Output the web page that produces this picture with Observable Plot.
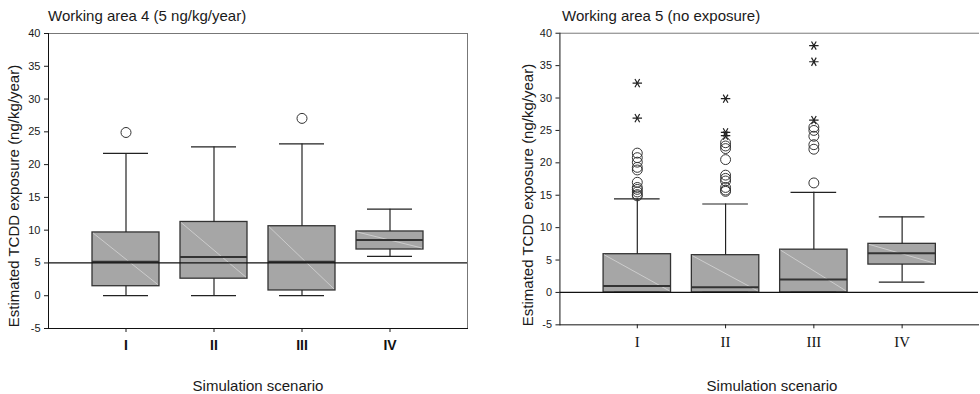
<!DOCTYPE html>
<html><head><meta charset="utf-8">
<script src="https://cdn.jsdelivr.net/npm/d3@7"></script>
<script src="https://cdn.jsdelivr.net/npm/@observablehq/plot@0.6"></script>
<style>
html,body{margin:0;padding:0;background:#fff;overflow:hidden;}
#wrap{position:relative;width:980px;height:394px;overflow:hidden;font-family:"Liberation Sans",Arial,sans-serif;color:#1a1a1a;}
.p{position:absolute;top:0;}
.t{position:absolute;white-space:nowrap;font-size:15px;line-height:1;}
</style></head><body><div id="wrap"></div>
<script>
// ---------- data ----------
const scenarios = ["I", "II", "III", "IV"];
const yTicks = [-5, 0, 5, 10, 15, 20, 25, 30, 35, 40];

// Working area 4 (5 ng/kg/year)
const a4WhiskerLow  = [0, 0, 0, 6.0];
const a4Q1          = [1.45, 2.6, 0.8, 7.05];
const a4Median      = [5.2, 5.9, 5.2, 8.5];
const a4Q3          = [9.65, 11.25, 10.6, 9.8];
const a4WhiskerHigh = [21.7, 22.7, 23.15, 13.2];
const a4OutI   = [24.9];
const a4OutII  = [];
const a4OutIII = [27.05];
const a4OutIV  = [];

// Working area 5 (no exposure)
const a5WhiskerLow  = [0, 0, 0, 1.6];
const a5Q1          = [0, 0, 0, 4.3];
const a5Median      = [1.0, 0.8, 2.0, 6.05];
const a5Q3          = [5.9, 5.75, 6.6, 7.5];
const a5WhiskerHigh = [14.45, 13.65, 15.45, 11.65];
const a5OutI   = [21.5, 20.8, 20.1, 19.3, 18.9, 17.0, 16.2, 15.9, 15.5, 15.1, 14.9];
const a5OutII  = [23.1, 22.6, 22.2, 20.5, 18.1, 17.6, 17.2, 16.2, 15.8, 15.6];
const a5OutIII = [25.5, 25.0, 24.1, 22.8, 22.1, 16.9];
const a5OutIV  = [];
const a5ExtI   = [32.3, 26.9];
const a5ExtII  = [29.9, 24.7, 24.2];
const a5ExtIII = [38.1, 35.6, 26.6];
const a5ExtIV  = [];

// ---------- helpers ----------
function flat(lists) {
  const out = [];
  lists.forEach((l, i) => l.forEach(v => out.push({s: scenarios[i], v})));
  return out;
}
function diagonals(q1, q3) {
  return (index, scales) => {
    const x = scales.x, y = scales.y;
    const bw = typeof x.bandwidth === "function" ? x.bandwidth() : 68;
    const g = d3.create("svg:g");
    scenarios.forEach((s, i) => {
      if (q3[i] - q1[i] <= 0) return;
      const x0 = x(s);
      g.append("line")
        .attr("x1", x0 + 1).attr("y1", y(q3[i]) + 1)
        .attr("x2", x0 + bw - 1).attr("y2", y(q1[i]) - 1)
        .attr("stroke", "#d6d6d6").attr("stroke-width", 0.8);
    });
    return g.node();
  };
}

function boxChart(o) {
  const marks = [
    Plot.barY(scenarios, {x: d => d, y1: (d, i) => o.q1[i], y2: (d, i) => o.q3[i],
      fill: "#a6a6a6", stroke: "#333", strokeWidth: 1.3}),
    diagonals(o.q1, o.q3),
    Plot.tickY(scenarios, {x: d => d, y: (d, i) => o.med[i], stroke: "#333", strokeWidth: 2}),
    Plot.ruleX(scenarios, {x: d => d, y1: (d, i) => o.q3[i], y2: (d, i) => o.hi[i], stroke: "#222", strokeWidth: 1.2}),
    Plot.ruleX(scenarios, {x: d => d, y1: (d, i) => o.lo[i], y2: (d, i) => o.q1[i], stroke: "#222", strokeWidth: 1.2}),
    Plot.tickY(scenarios, {x: d => d, y: (d, i) => o.hi[i], insetLeft: 11, insetRight: 11, stroke: "#222", strokeWidth: 1.2}),
    Plot.tickY(scenarios, {x: d => d, y: (d, i) => o.lo[i], insetLeft: 11, insetRight: 11, stroke: "#222", strokeWidth: 1.2}),
    Plot.dot(o.out, {x: "s", y: "v", r: 5, stroke: "#333", fill: "none", strokeWidth: 1}),
    Plot.dot(o.ext, {x: "s", y: "v", r: 4.5, symbol: "asterisk", rotate: 90, stroke: "#222", strokeWidth: 1.2}),
    Plot.ruleY([o.ref], {stroke: "#111", strokeWidth: 1.2}),
    Plot.frame({anchor: "top", stroke: "#777"}),
    o.rightBorder ? Plot.frame({anchor: "right", stroke: "#777"}) : null,
    Plot.frame({anchor: "left", stroke: "#111"}),
    Plot.frame({anchor: "bottom", stroke: "#111"}),
    Plot.axisY({ticks: yTicks, tickSize: 4, tickPadding: 4, tickFormat: d => String(d), fontSize: 11, label: null}),
    Plot.axisX({tickSize: 4, tickPadding: 8, label: null, fontSize: o.xFontSize})
  ];
  const svg = Plot.plot({
    width: o.width, height: 394,
    marginLeft: o.ml, marginRight: o.mr, marginTop: 33, marginBottom: o.mb,
    x: {domain: scenarios, paddingInner: 0.236, paddingOuter: 0.472},
    y: {domain: [-5, 40]},
    style: {background: "transparent", color: "#1a1a1a", fontFamily: '"Liberation Sans", Arial, sans-serif', overflow: "visible"},
    marks
  });
  svg.querySelectorAll("text").forEach(el => {
    if (scenarios.includes(el.textContent.trim())) {
      el.setAttribute("font-family", o.xFont);
      el.style.fontFamily = o.xFont;
      el.style.fontSize = o.xFontSize + "px";
      el.style.fontWeight = o.xWeight;
      el.style.fill = "#111";
    }
  });
  return svg;
}

const wrap = document.getElementById("wrap");
function place(node, left) {
  const d = document.createElement("div");
  d.className = "p"; d.style.left = left + "px";
  d.appendChild(node); wrap.appendChild(d);
}
function text(str, x, y, opts = {}) {
  const d = document.createElement("div");
  d.className = "t"; d.textContent = str;
  d.style.left = x + "px"; d.style.top = y + "px";
  if (opts.size) d.style.fontSize = opts.size + "px";
  d.style.transform = opts.rotate ? "translate(-50%,-50%) rotate(-90deg)" : (opts.center ? "translate(-50%,-50%)" : "translate(0,-50%)");
  wrap.appendChild(d);
}

place(boxChart({
  width: 490, ml: 48, mr: 23, mb: 66, rightBorder: true,
  q1: a4Q1, q3: a4Q3, med: a4Median, lo: a4WhiskerLow, hi: a4WhiskerHigh,
  out: flat([a4OutI, a4OutII, a4OutIII, a4OutIV]), ext: [],
  ref: 5, xFont: '"Liberation Sans", Arial, sans-serif', xFontSize: 14, xWeight: "bold"
}), 0);

place(boxChart({
  width: 494, ml: 70, mr: 2, mb: 67, rightBorder: false,
  q1: a5Q1, q3: a5Q3, med: a5Median, lo: a5WhiskerLow, hi: a5WhiskerHigh,
  out: flat([a5OutI, a5OutII, a5OutIII, a5OutIV]),
  ext: flat([a5ExtI, a5ExtII, a5ExtIII, a5ExtIV]),
  ref: 0, xFont: '"Liberation Serif", "Times New Roman", serif', xFontSize: 15, xWeight: "normal"
}), 490);

text("Working area 4 (5 ng/kg/year)", 48, 15);
text("Working area 5 (no exposure)", 562, 15);
text("Estimated TCDD exposure (ng/kg/year)", 13, 196, {rotate: true});
text("Estimated TCDD exposure (ng/kg/year)", 527, 195, {rotate: true});
text("Simulation scenario", 258, 385, {center: true});
text("Simulation scenario", 772, 385, {center: true});
</script></body></html>
